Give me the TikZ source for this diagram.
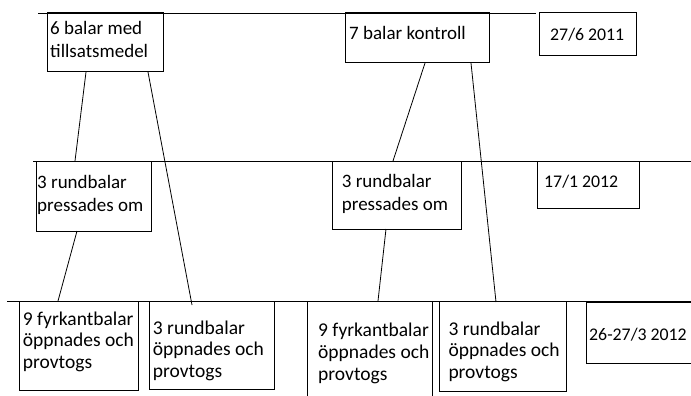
\documentclass[tikz,border=0pt]{standalone}
\usepackage{fontspec}
\setmainfont{Carlito}
\begin{document}
\begin{tikzpicture}[x=1pt,y=-1pt,
  box/.style={draw, line width=1pt, inner sep=0pt, outer sep=0pt, anchor=north west},
  txt/.style={inner sep=0pt, anchor=north west, align=left,
     font=\fontsize{19}{22}\selectfont},
  datetxt/.style={txt, font=\fontsize{17.8}{22}\selectfont},
  hline/.style={line width=0.9pt},
  conn/.style={line width=0.8pt}]
\newcommand{\fst}{\rule{0pt}{15pt}}
\useasboundingbox (0,0) rectangle (691,396);
\clip (0,0) rectangle (691,396);
% horizontal time lines
\coordinate (L1a) at (38,13);  \coordinate (L1b) at (536,13);
\coordinate (L2a) at (33,161); \coordinate (L2b) at (691,161);
\coordinate (L3a) at (7,301);  \coordinate (L3b) at (691,301);
\draw[hline] (L1a) -- (L1b);
\draw[hline] (L2a) -- (L2b);
\draw[hline] (L3a) -- (L3b);
% boxes
\node[box, minimum width=116pt, minimum height=59pt] (b1) at (47,13) {};
\node[box, minimum width=143.6pt, minimum height=50pt] (b2) at (345.7,13) {};
\node[box, minimum width=97.7pt, minimum height=42.7pt] (d1) at (539,13) {};
\node[box, minimum width=115pt, minimum height=70pt] (m1) at (36.7,161) {};
\node[box, minimum width=129pt, minimum height=68pt] (m2) at (332.7,161) {};
\node[box, minimum width=101.6pt, minimum height=47.3pt] (d2) at (537.7,161) {};
\node[box, minimum width=119pt, minimum height=89.5pt] (f1) at (19.5,301) {};
\node[box, minimum width=125pt, minimum height=88pt] (r1) at (149,301) {};
\node[box, minimum width=125pt, minimum height=110pt] (f2) at (307,301) {};
\node[box, minimum width=127.3pt, minimum height=90.7pt] (r2) at (439.3,301) {};
\node[box, minimum width=120pt, minimum height=61pt] (d3) at (586.7,302.3) {};
% texts (north = first baseline - 15)
\node[txt, font=\fontsize{19}{23}\selectfont] (tb1) at (50,19) {\fst 6 balar med\\tillsatsmedel};
\node[txt] (tb2) at (349,24) {\fst 7 balar kontroll};
\node[datetxt] (td1) at (550,25) {\fst 27/6 2011};
\node[txt, font=\fontsize{19}{23}\selectfont] (tm1) at (37,173) {\fst 3 rundbalar\\pressades om};
\node[txt, font=\fontsize{19}{23}\selectfont] (tm2) at (341.7,172.7) {\fst 3 rundbalar\\pressades om};
\node[datetxt] (td2) at (544,172) {\fst 17/1 2012};
\node[txt, font=\fontsize{19.5}{21.5}\selectfont] (tf1) at (22.7,310) {\fst 9 fyrkantbalar\\öppnades och\\provtogs};
\node[txt, font=\fontsize{19.5}{21.5}\selectfont] (tr1) at (152.7,319) {\fst 3 rundbalar\\öppnades och\\provtogs};
\node[txt, font=\fontsize{19.5}{22}\selectfont] (tf2) at (318,321.7) {\fst 9 fyrkantbalar\\öppnades och\\provtogs};
\node[txt, font=\fontsize{19.5}{21.5}\selectfont] (tr2) at (448.3,320) {\fst 3 rundbalar\\öppnades och\\provtogs};
\node[datetxt] (td3) at (589,325) {\fst 26-27/3 2012};
% connectors
\draw[conn] ([xshift=39pt]b1.south west) -- ([xshift=38.3pt]m1.north west);
\draw[conn] ([xshift=101pt]b1.south west) -- ([xshift=43pt,yshift=-4pt]r1.north west);
\draw[conn] ([xshift=40.3pt]m1.south west) -- ([xshift=38.5pt]f1.north west);
\draw[conn] ([xshift=79.3pt]b2.south west) -- ([xshift=60.3pt]m2.north west);
\draw[conn] ([xshift=125.3pt]b2.south west) -- ([xshift=56.7pt,yshift=-1pt]r2.north west);
\draw[conn] ([xshift=53.3pt]m2.south west) -- ([xshift=71pt]f2.north west);
\end{tikzpicture}
\end{document}
